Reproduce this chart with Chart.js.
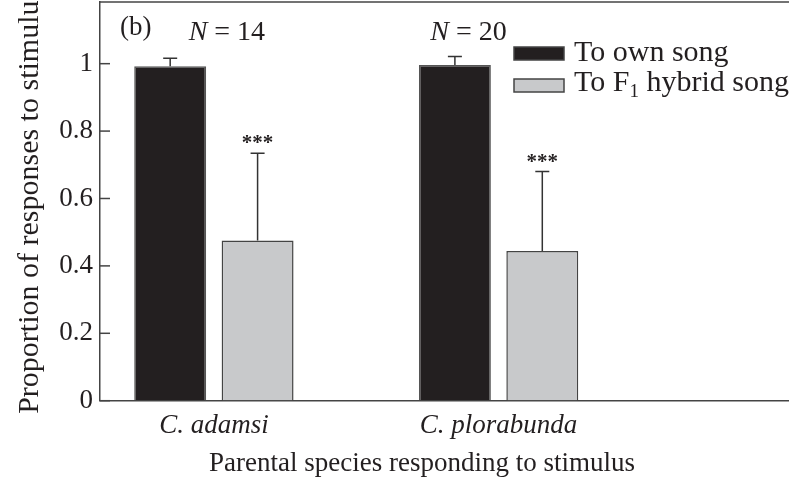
<!DOCTYPE html>
<html>
<head>
<meta charset="utf-8">
<script src="https://cdn.jsdelivr.net/npm/chart.js@4/dist/chart.umd.min.js"></script>
<style>
  html, body { margin: 0; padding: 0; background: #fff; overflow: hidden; }
  #wrap { position: relative; width: 789px; height: 480px; }
</style>
</head>
<body>
<div id="wrap"><canvas id="canvas1"></canvas></div>
<script>
"use strict";

// data
const categories = ["C. adamsi", "C. plorabunda"];
const seriesNames = ["To own song", "To F1 hybrid song"];
const ownSong = [0.992, 0.996];
const ownErr = [0.024, 0.025];
const hybridSong = [0.475, 0.444];
const hybridErr = [0.259, 0.236];
const yTicks = [0, 0.2, 0.4, 0.6, 0.8, 1];
const sampleSizes = ["14", "20"];
const signif = ["***", "***"];

const ink = "#231f20";
const serif = "'Liberation Serif', 'DejaVu Serif', serif";

// x positions of the groups on a linear axis (1, 2)
const xs = categories.map((c, i) => i + 1);

let ownPts = xs.map((x, i) => ({ x: x, y: ownSong[i] }));
let hybPts = xs.map((x, i) => ({ x: x, y: hybridSong[i] }));

// error bars, *** and N labels, legend, frame
const extras = {
    id: "extras",
    afterDatasetsDraw(chart) {
        let ctx = chart.ctx;
        let ys = chart.scales.y;
        let xsc = chart.scales.x;
        let area = chart.chartArea;
        ctx.save();

        // top frame line
        ctx.strokeStyle = "#444";
        ctx.lineWidth = 1.5;
        ctx.beginPath();
        ctx.moveTo(area.left, area.top);
        ctx.lineTo(area.right, area.top);
        ctx.stroke();

        // inward ticks on y
        ys.ticks.forEach(t => {
            let py = ys.getPixelForValue(t.value);
            ctx.beginPath();
            ctx.moveTo(area.left, py);
            ctx.lineTo(area.left + 10, py);
            ctx.stroke();
        });

        // error bars (upper only)
        const errs = [ownErr, hybridErr];
        chart.data.datasets.forEach((ds, di) => {
            let meta = chart.getDatasetMeta(di);
            meta.data.forEach((bar, i) => {
                let top = ys.getPixelForValue(ds.data[i].y + errs[di][i]);
                ctx.strokeStyle = "#333";
                ctx.lineWidth = 1.5;
                ctx.beginPath();
                ctx.moveTo(bar.x, bar.y);
                ctx.lineTo(bar.x, top);
                ctx.moveTo(bar.x - 7, top);
                ctx.lineTo(bar.x + 7, top);
                ctx.stroke();
                if (di == 1) {
                    ctx.fillStyle = ink;
                    ctx.font = "bold 21px " + serif;
                    ctx.textAlign = "center";
                    ctx.textBaseline = "alphabetic";
                    ctx.fillText(signif[i], bar.x, top - 4);
                }
            });
        });

        // N = labels
        const nShift = [13, -30];
        ctx.fillStyle = ink;
        ctx.textBaseline = "alphabetic";
        ctx.textAlign = "left";
        sampleSizes.forEach((n, i) => {
            let cx = xsc.getPixelForValue(xs[i]) + nShift[i];
            ctx.font = "italic 28px " + serif;
            let wN = ctx.measureText("N").width;
            ctx.font = "28px " + serif;
            let rest = " = " + n;
            let wR = ctx.measureText(rest).width;
            let x0 = cx - (wN + wR) / 2;
            ctx.font = "italic 28px " + serif;
            ctx.fillText("N", x0, 40);
            ctx.font = "28px " + serif;
            ctx.fillText(rest, x0 + wN, 40);
        });

        // panel letter
        ctx.font = "27px " + serif;
        ctx.fillText("(b)", 120, 35);

        // legend
        const fills = chart.data.datasets.map(d => d.backgroundColor);
        const boxY = [47, 79];
        const baseY = [61, 91];
        fills.forEach((f, i) => {
            ctx.fillStyle = f;
            ctx.fillRect(514, boxY[i], 50, 13);
            ctx.strokeStyle = "#444";
            ctx.lineWidth = 1.5;
            ctx.strokeRect(514, boxY[i], 50, 13);
        });
        ctx.fillStyle = ink;
        ctx.font = "30px " + serif;
        ctx.fillText("To own song", 574, baseY[0]);
        let w1 = ctx.measureText("To F").width;
        ctx.fillText("To F", 574, baseY[1]);
        ctx.font = "19px " + serif;
        ctx.fillText("1", 574 + w1, baseY[1] + 6);
        let ws = ctx.measureText("1").width;
        ctx.font = "30px " + serif;
        ctx.fillText(" hybrid song", 574 + w1 + ws, baseY[1]);

        // x axis title
        ctx.textAlign = "center";
        ctx.font = "27px " + serif;
        ctx.fillText("Parental species responding to stimulus", 422, 471);

        ctx.restore();
    }
};

let canvas1 = document.querySelector("#canvas1");

let opts = {
    type: "bar",
    data: {
        datasets: [
            { label: seriesNames[0], data: ownPts, backgroundColor: "#231f20", borderColor: "#555", borderWidth: 1.5,
              categoryPercentage: 0.614, barPercentage: 0.823 },
            { label: seriesNames[1], data: hybPts, backgroundColor: "#c8c9cb", borderColor: "#444", borderWidth: 1.5,
              categoryPercentage: 0.614, barPercentage: 0.823 },
        ],
    },
    options: {
        responsive: true,
        maintainAspectRatio: false,
        animation: false,
        layout: { padding: { top: 2, right: 0, left: 0, bottom: 0 } },
        plugins: { legend: { display: false }, tooltip: { enabled: false } },
        scales: {
            x: {
                type: "linear",
                offset: false,
                min: 0.6,
                max: 3.02,
                afterBuildTicks: s => { s.ticks = xs.map(v => ({ value: v })); },
                afterFit: s => { s.height = 79.3; s.paddingLeft = 0; s.paddingRight = 0; },
                grid: { drawOnChartArea: false, drawTicks: false, offset: false },
                border: { color: "#444", width: 1.5 },
                ticks: {
                    padding: 9,
                    color: ink,
                    maxRotation: 0,
                    font: { family: serif, size: 27, style: "italic" },
                    callback: v => categories[v - 1],
                },
            },
            y: {
                min: 0,
                max: 1.183,
                afterBuildTicks: s => { s.ticks = yTicks.map(v => ({ value: v })); },
                afterFit: s => { s.width = 100; s.paddingTop = 0; s.paddingBottom = 0; },
                grid: { drawOnChartArea: false, drawTicks: false },
                border: { color: "#444", width: 1.5 },
                ticks: {
                    padding: 7,
                    color: ink,
                    font: { family: serif, size: 27 },
                    callback: v => String(v),
                },
                title: {
                    display: true,
                    text: "Proportion of responses to stimulus",
                    color: ink,
                    font: { family: serif, size: 30 },
                    padding: { top: 12, bottom: 0 },
                },
            },
        },
    },
    plugins: [extras],
};

let chart1 = new Chart(canvas1, opts);
</script>
</body>
</html>
